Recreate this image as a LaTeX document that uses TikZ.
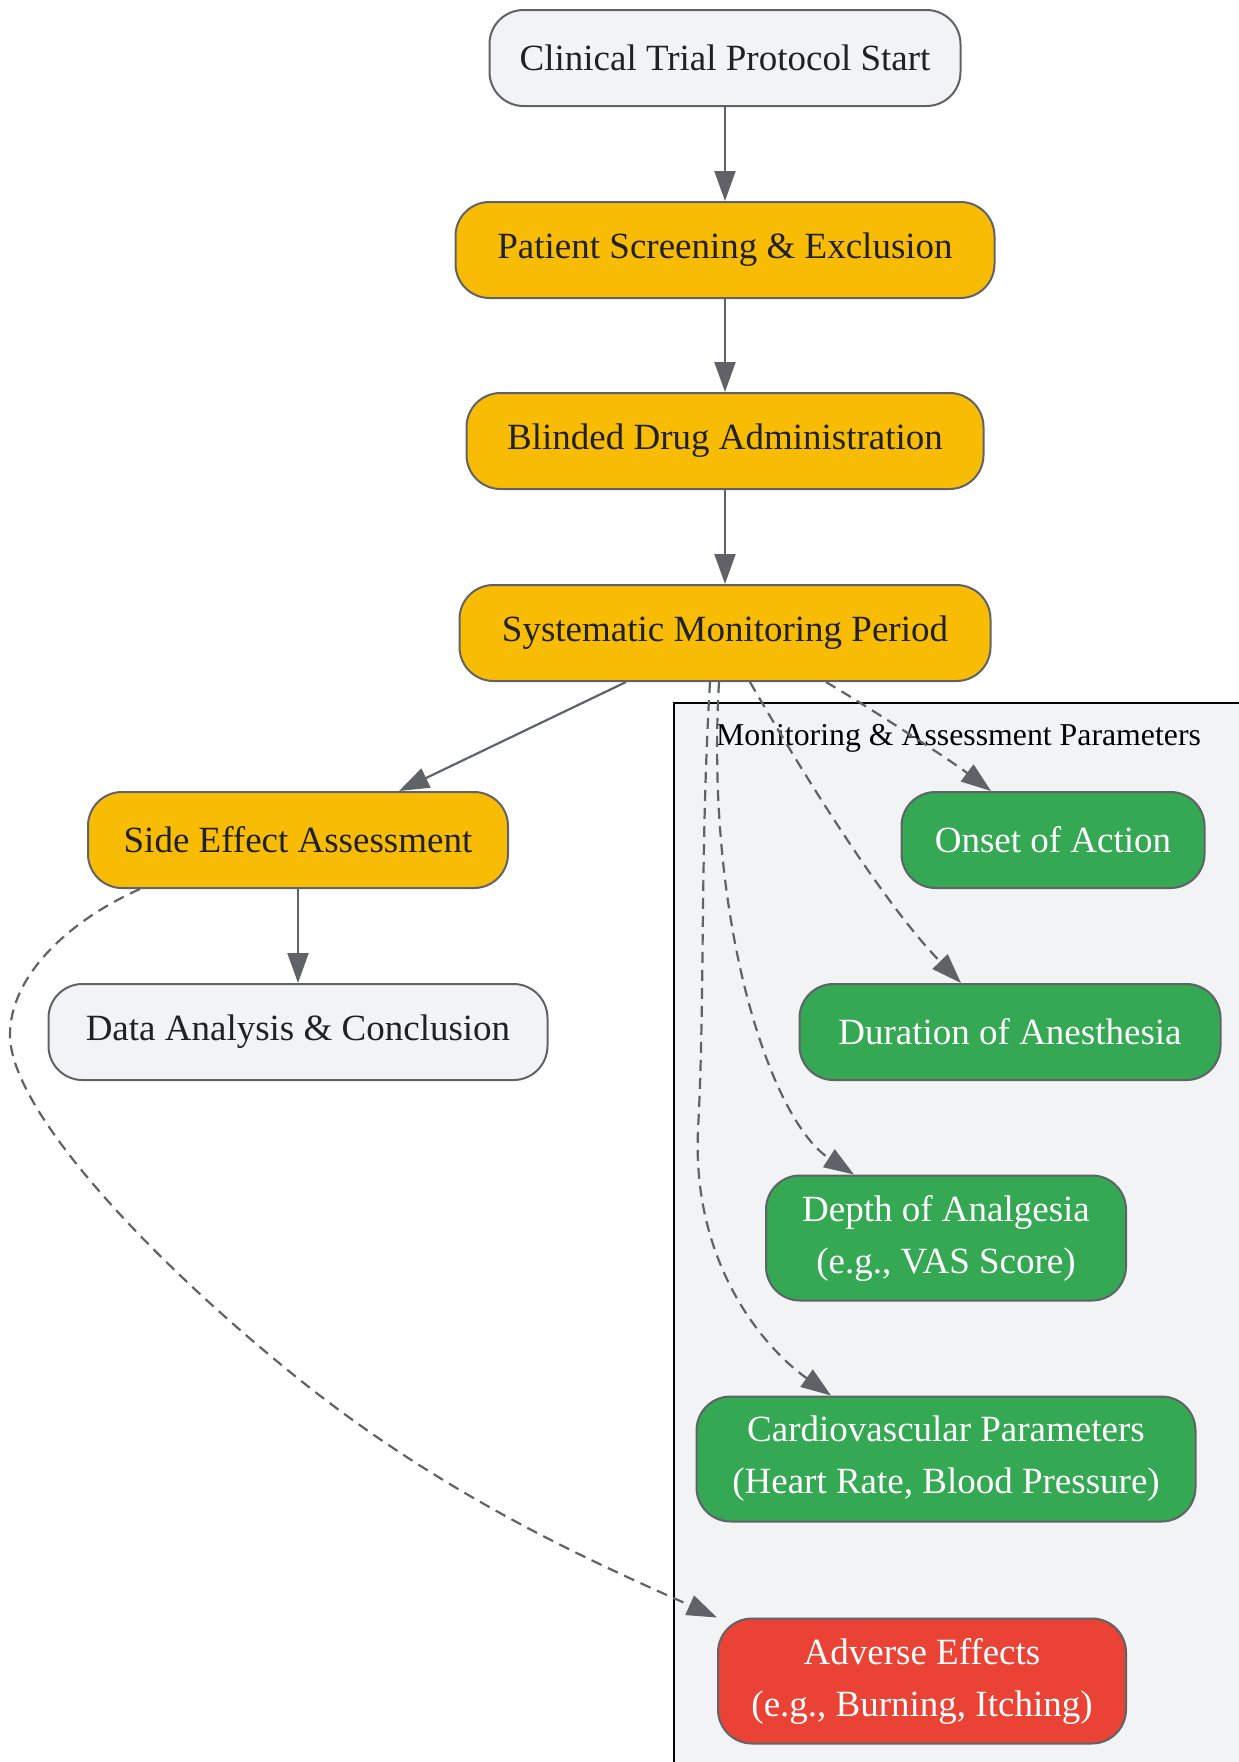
\documentclass[tikz,border=0pt]{standalone}
\usepackage{fontspec}
\setmainfont{Liberation Serif}
\usepackage{tikz}
\usetikzlibrary{
  arrows.meta
  , positioning
}
\definecolor{LineGray}{HTML}{5F6368}
\definecolor{TextDark}{HTML}{202124}
\definecolor{PaleGray}{HTML}{F1F3F4}
\definecolor{StepYellow}{HTML}{F9BC05}
\definecolor{ParamGreen}{HTML}{34A853}
\definecolor{AdvrRed}{HTML}{EA4335}

\begin{document}
\begin{tikzpicture}[
    x=0.5pt, y=-0.5pt,
    box/.style={
      draw=LineGray,
      line width=1pt,
      rectangle,
      rounded corners=17pt,
      minimum height=48pt,
      inner sep=0pt,
      align=center,
      text=TextDark,
      font=\fontsize{18.5}{26}\selectfont,
    },
    greybox/.style={box, fill=PaleGray},
    stepbox/.style={box, fill=StepYellow},
    parambox/.style={box, fill=ParamGreen, text=white},
    advrbox/.style={box, fill=AdvrRed, text=white},
    twoline/.style={minimum height=62.5pt},
    flow/.style={-{Triangle[length=15pt,width=10.5pt]}, draw=LineGray, line width=1.1pt},
    dashflow/.style={flow, dash pattern=on 5.5pt off 3.5pt},
  ]
      \useasboundingbox (0,0) rectangle (1238,1762);

      \draw[fill=PaleGray, line width=1pt] (674,703) rectangle (1260,1780);
      \node[anchor=west, font=\fontsize{15.9}{19}\selectfont] (PrmsLbl) at (709,738)
        {Monitoring \& Assessment Parameters};

      \node [greybox, minimum width=235.5pt] (StrtRect) at (725,58)
        {Clinical Trial Protocol Start};
      \node [stepbox, minimum width=269.5pt] (ScrnRect) at (725,250)
        {Patient Screening \& Exclusion};
      \node [stepbox, minimum width=258.5pt] (BlndRect) at (725,441)
        {Blinded Drug Administration};
      \node [stepbox, minimum width=265.5pt] (MntrRect) at (725,633)
        {Systematic Monitoring Period};
      \node [stepbox, minimum width=210pt] (SdEfRect) at (298,840)
        {Side Effect Assessment};
      \node [greybox, minimum width=249.5pt] (DataRect) at (298,1032)
        {Data Analysis \& Conclusion};

      \node [parambox, minimum width=151.5pt] (OnstRect) at (1053,840)
        {Onset of Action};
      \node [parambox, minimum width=210.5pt] (DrtnRect) at (1010,1032)
        {Duration of Anesthesia};
      \node [parambox, twoline, minimum width=180pt] (DpthRect) at (946,1238)
        {Depth of Analgesia\\(e.g., VAS Score)};
      \node [parambox, twoline, minimum width=249.5pt] (CrdvRect) at (946,1459)
        {Cardiovascular Parameters\\(Heart Rate, Blood Pressure)};
      \node [advrbox, twoline, minimum width=204pt] (AdvrRect) at (922,1681)
        {Adverse Effects\\(e.g., Burning, Itching)};

      \draw[flow] (StrtRect.south) -- (ScrnRect.north);
      \draw[flow] (ScrnRect.south) -- (BlndRect.north);
      \draw[flow] (BlndRect.south) -- (MntrRect.north);
      \draw[flow] ([xshift=-49.5pt]MntrRect.south) -- ([xshift=50.5pt]SdEfRect.north);
      \draw[flow] (SdEfRect.south) -- (DataRect.north);

      \draw[dashflow] ([xshift=50.5pt]MntrRect.south)
        .. controls (870,708) and (950,760) .. ([xshift=-31pt]OnstRect.north);
      \draw[dashflow] ([xshift=12.5pt]MntrRect.south)
        .. controls (795,760) and (880,900) .. ([xshift=-24.5pt]DrtnRect.north);
      \draw[dashflow] ([xshift=-3pt]MntrRect.south)
        .. controls (705,920) and (770,1120) .. ([xshift=-46pt]DpthRect.north);
      \draw[dashflow] ([xshift=-7.5pt]MntrRect.south)
        .. controls (700,850) and (705,1000) .. (698,1130)
        .. controls (692,1260) and (760,1345) .. ([xshift=-57.5pt]CrdvRect.north);
      \draw[dashflow] ([xshift=-79pt]SdEfRect.south)
        .. controls (70,920) and (10,975) .. (10,1035)
        .. controls (10,1110) and (150,1260) .. (300,1380)
        .. controls (450,1500) and (600,1565) .. (AdvrRect.north west);
\end{tikzpicture}
\end{document}
